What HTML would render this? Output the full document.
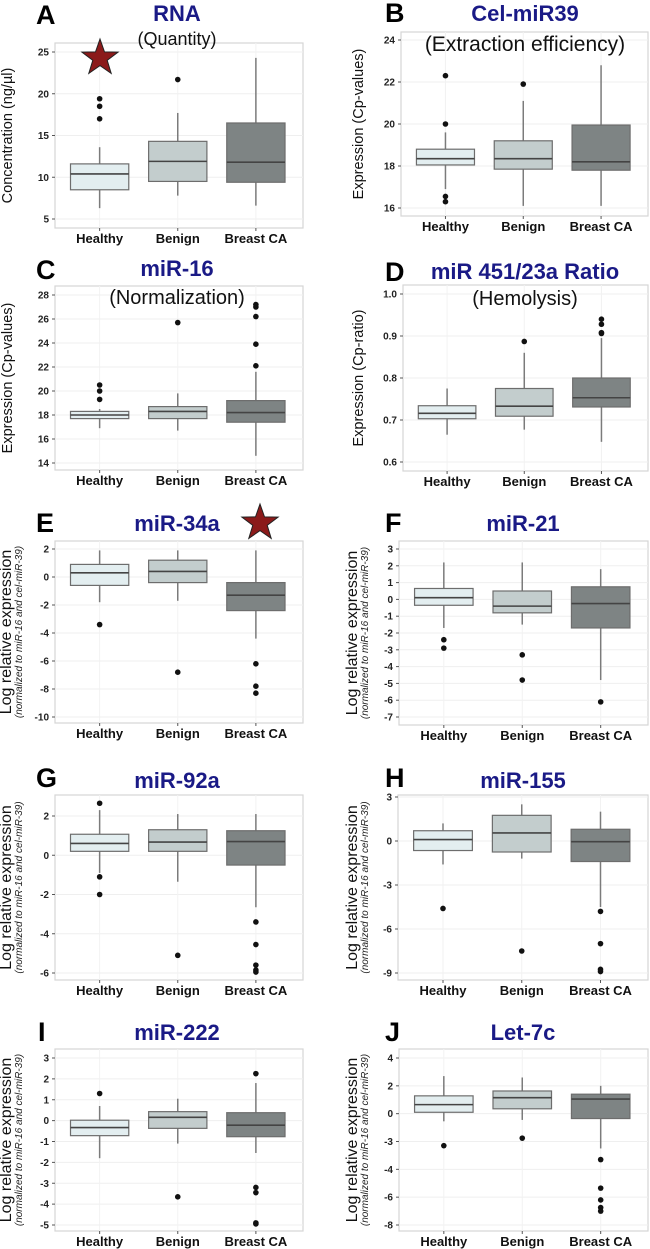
<!DOCTYPE html>
<html><head><meta charset="utf-8">
<style>
html,body{margin:0;padding:0;background:#fff;}
svg{display:block;font-family:"Liberation Sans",Arial,sans-serif;}
</style></head>
<body>
<svg id="fig" width="650" height="1249" viewBox="0 0 650 1249" xmlns="http://www.w3.org/2000/svg"></svg>
<script>
const categories = ["Healthy","Benign","Breast CA"];
// box stats: [lowWhisker, q1, median, q3, highWhisker]
const aBoxes = [[6.3,8.5,10.4,11.6,13.6],[7.8,9.5,11.9,14.3,17.7],[6.6,9.4,11.8,16.5,24.3]];
const aOut = [[17,18.5,19.4],[21.7],[]];
const aTicks = [5,10,15,20,25];
const bBoxes = [[16.9,18.05,18.35,18.8,19.6],[16.1,17.85,18.35,19.2,21.1],[16.1,17.8,18.2,19.95,22.8]];
const bOut = [[16.3,16.55,20,22.3],[21.9],[]];
const bTicks = [16,18,20,22,24];
const cBoxes = [[16.9,17.7,18.0,18.3,18.5],[16.7,17.7,18.3,18.7,19.8],[14.6,17.4,18.2,19.2,21.6]];
const cOut = [[19.3,20,20.5],[25.7],[22.1,23.9,26.2,27,27.2]];
const cTicks = [14,16,18,20,22,24,26,28];
const dBoxes = [[0.665,0.703,0.716,0.734,0.775],[0.677,0.709,0.733,0.775,0.86],[0.648,0.731,0.753,0.8,0.895]];
const dOut = [[],[0.887],[0.906,0.908,0.928,0.94]];
const dTicks = [0.6,0.7,0.8,0.9,1.0];
const dTickLabels = ["0.6","0.7","0.8","0.9","1.0"];
const eBoxes = [[-1.8,-0.6,0.3,0.9,1.9],[-1.7,-0.4,0.4,1.2,1.9],[-4.4,-2.4,-1.3,-0.4,1.9]];
const eOut = [[-3.4],[-6.8],[-6.2,-7.8,-8.3]];
const eTicks = [-10,-8,-6,-4,-2,0,2];
const fBoxes = [[-1.7,-0.35,0.1,0.65,2.2],[-1.5,-0.8,-0.4,0.5,2.2],[-4.8,-1.7,-0.25,0.75,1.8]];
const fOut = [[-2.4,-2.9],[-3.3,-4.8],[-6.1]];
const fTicks = [-7,-6,-5,-4,-3,-2,-1,0,1,2,3];
const gBoxes = [[-0.9,0.2,0.6,1.07,2.3],[-1.35,0.2,0.67,1.3,2.1],[-2.65,-0.5,0.7,1.25,2.1]];
const gOut = [[2.65,-1.1,-2],[-5.1],[-3.4,-4.55,-5.6,-5.85,-5.95]];
const gTicks = [-6,-4,-2,0,2];
const hBoxes = [[-1.6,-0.65,0.1,0.7,1.2],[-1.2,-0.75,0.55,1.75,2.5],[-4.5,-1.4,-0.05,0.8,2.0]];
const hOut = [[-4.6],[-7.5],[-4.8,-7.0,-8.75,-8.9]];
const hTicks = [-9,-6,-3,0,3];
const iBoxes = [[-1.8,-0.72,-0.33,0.02,0.7],[-1.1,-0.37,0.16,0.43,1.05],[-1.55,-0.77,-0.22,0.38,1.8]];
const iOut = [[1.3],[-3.65],[2.25,-3.2,-3.45,-4.9,-4.95]];
const iTicks = [-5,-4,-3,-2,-1,0,1,2,3];
const jBoxes = [[-0.55,0.1,0.65,1.28,2.7],[-0.45,0.35,1.15,1.63,2.6],[-2.5,-0.35,1.05,1.4,2.0]];
const jOut = [[-2.3],[-1.76],[-3.3,-5.35,-6.2,-6.75,-7.0]];
const jTicks = [-8,-6,-4,-2,0,2,4];
const jTickLabels = ["-8","-6","-4","-3","0","2","4"];

const NS="http://www.w3.org/2000/svg";
const svg=document.getElementById("fig");
const fills=["#e3eef0","#c3cdcd","#7e8484"];
function mk(tag,attrs,parent){const e=document.createElementNS(NS,tag);for(const k in attrs)e.setAttribute(k,attrs[k]);(parent||svg).appendChild(e);return e;}

function panel(p){
  const g=mk("g",{});
  
  
  const [x0,y0,x1,y1]=p.frame;
  const [v1,py1,v2,py2]=p.anchors;
  const ys=v=>py1+(v-v1)*(py2-py1)/(v2-v1);
  const w=x1-x0;
  const xs=i=>x0+w*[0.18,0.495,0.81][i];
  const bw=w*0.235;
  const bg=mk("rect",{x:x0,y:y0,width:w,height:y1-y0,fill:"#fff",stroke:"#d6d6d6","stroke-width":1.2},g);
  
  
  p.ticks.forEach((t,k)=>{
    const y=ys(t);
    mk("line",{x1:x0,x2:x1,y1:y,y2:y,stroke:"#efefef","stroke-width":1},g);
    mk("line",{x1:x0-3,x2:x0,y1:y,y2:y,stroke:"#555","stroke-width":1},g);
    const tl=mk("text",{x:x0-6,y:y+3.5,"text-anchor":"end","font-size":10,"font-weight":"bold",fill:"#222"},g);
    tl.textContent=p.tickLabels?p.tickLabels[k]:String(t);
    
    
  });
  categories.forEach((c,i)=>{
    mk("line",{x1:xs(i),x2:xs(i),y1:y0,y2:y1,stroke:"#f2f2f2","stroke-width":1},g);
    const s=p.boxes[i];const cx=xs(i);
    const wl=mk("line",{x1:cx,x2:cx,y1:ys(s[0]),y2:ys(s[4]),stroke:"#7b7b7b","stroke-width":1.5},g);
    
    
    const b=mk("rect",{x:cx-bw/2,y:ys(s[3]),width:bw,height:ys(s[1])-ys(s[3]),fill:fills[i],stroke:"#6d6d6d","stroke-width":1.2},g);
    
    
    mk("line",{x1:cx-bw/2,x2:cx+bw/2,y1:ys(s[2]),y2:ys(s[2]),stroke:"#444","stroke-width":1.6},g);
    p.out[i].forEach(v=>{
      const d=mk("circle",{cx:cx,cy:ys(v),r:2.8,fill:"#111"},g);
      
      
    });
    mk("line",{x1:cx,x2:cx,y1:y1,y2:y1+3,stroke:"#555"},g);
    const xl=mk("text",{x:cx,y:y1+15,"text-anchor":"middle","font-size":13,"font-weight":"bold",fill:"#111"},g);
    xl.textContent=c;
    
    
  });
  const L=mk("text",{x:p.lx,y:p.ly+9,"font-size":27,"font-weight":"bold",fill:"#000"},g);
  L.textContent=p.letter;
  
  
  const T=mk("text",{x:p.tx,y:p.ty+8,"text-anchor":"middle","font-size":22,"font-weight":"bold",fill:"#1a1a86"},g);
  T.textContent=p.title;
  
  
  if(p.sub){
    const S=mk("text",{x:p.tx,y:p.sy+7,"text-anchor":"middle","font-size":p.subSize||20,fill:"#111"},g);
    S.textContent=p.sub;
    
    
  }
  const cy=(y0+y1)/2;
  if(p.ytitle2){
    const A=mk("text",{x:0,y:0,transform:`translate(${p.ya+6},${cy}) rotate(-90)`,"text-anchor":"middle","font-size":16,fill:"#111"},g);
    A.textContent=p.ytitle;
    
    
    const B=mk("text",{x:0,y:0,transform:`translate(${p.ya+17},${cy}) rotate(-90)`,"text-anchor":"middle","font-size":10,"font-style":"italic",fill:"#222"},g);
    B.textContent=p.ytitle2;
    
    
  } else {
    const A=mk("text",{x:0,y:0,transform:`translate(${p.ya+6},${cy}) rotate(-90)`,"text-anchor":"middle","font-size":14.5,fill:"#111"},g);
    A.textContent=p.ytitle;
    
    
  }
}
function star(cx,cy,R){
  const r=R*0.4;let pts=[];
  for(let k=0;k<10;k++){const a=-Math.PI/2+k*Math.PI/5;const rr=k%2?r:R;pts.push((cx+rr*Math.cos(a)).toFixed(1)+","+(cy+rr*Math.sin(a)).toFixed(1));}
  const s=mk("polygon",{points:pts.join(" "),fill:"#8b1a1a",stroke:"#222","stroke-width":1});
  
  
}
const LOG="Log relative expression", NORM="(normalized to miR-16 and cel-miR-39)";
panel({letter:"A",lx:36,ly:15,title:"RNA",tx:177,ty:13,sub:"(Quantity)",sy:38,subSize:18,frame:[55,43,303,228],anchors:[25,52,5,219],ticks:aTicks,boxes:aBoxes,out:aOut,ytitle:"Concentration (ng/µl)",ya:6});
panel({letter:"B",lx:385,ly:13,title:"Cel-miR39",tx:525,ty:13,sub:"(Extraction efficiency)",sy:44,subSize:21,frame:[401,32,648,216],anchors:[24,40,16,208],ticks:bTicks,boxes:bBoxes,out:bOut,ytitle:"Expression (Cp-values)",ya:357});
panel({letter:"C",lx:36,ly:270,title:"miR-16",tx:177,ty:268,sub:"(Normalization)",sy:297,frame:[55,286,303,470],anchors:[28,295,14,463],ticks:cTicks,boxes:cBoxes,out:cOut,ytitle:"Expression (Cp-values)",ya:6});
panel({letter:"D",lx:385,ly:272,title:"miR 451/23a Ratio",tx:525,ty:271,sub:"(Hemolysis)",sy:298,frame:[403,285,648,471],anchors:[1.0,294,0.6,462],ticks:dTicks,tickLabels:dTickLabels,boxes:dBoxes,out:dOut,ytitle:"Expression (Cp-ratio)",ya:357});
panel({letter:"E",lx:36,ly:523,title:"miR-34a",tx:177,ty:523,frame:[55,541,303,723],anchors:[2,549,-10,717],ticks:eTicks,boxes:eBoxes,out:eOut,ytitle:LOG,ytitle2:NORM,ya:5});
panel({letter:"F",lx:385,ly:523,title:"miR-21",tx:523,ty:523,frame:[399,541,648,725],anchors:[3,549,-7,717],ticks:fTicks,boxes:fBoxes,out:fOut,ytitle:LOG,ytitle2:NORM,ya:351});
panel({letter:"G",lx:36,ly:778,title:"miR-92a",tx:177,ty:780,frame:[55,795,303,980],anchors:[2,816,-6,973],ticks:gTicks,boxes:gBoxes,out:gOut,ytitle:LOG,ytitle2:NORM,ya:5});
panel({letter:"H",lx:385,ly:778,title:"miR-155",tx:523,ty:780,frame:[398,795,648,980],anchors:[3,797,-9,973],ticks:hTicks,boxes:hBoxes,out:hOut,ytitle:LOG,ytitle2:NORM,ya:351});
panel({letter:"I",lx:38,ly:1032,title:"miR-222",tx:177,ty:1032,frame:[55,1049,303,1231],anchors:[3,1058,-5,1225],ticks:iTicks,boxes:iBoxes,out:iOut,ytitle:LOG,ytitle2:NORM,ya:5});
panel({letter:"J",lx:385,ly:1032,title:"Let-7c",tx:523,ty:1032,frame:[399,1049,648,1231],anchors:[4,1058,-8,1225],ticks:jTicks,tickLabels:jTickLabels,boxes:jBoxes,out:jOut,ytitle:LOG,ytitle2:NORM,ya:351});
star(100,58,19);
star(260,523,19);
</script>
</body></html>
